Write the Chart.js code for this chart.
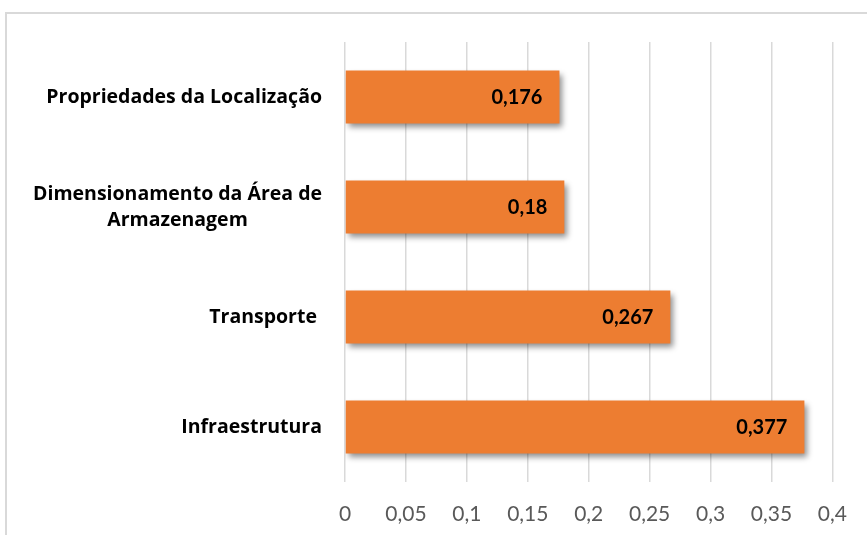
<!DOCTYPE html>
<html>
<head>
<meta charset="utf-8">
<script src="https://cdn.jsdelivr.net/npm/chart.js@4.4.1/dist/chart.umd.min.js"></script>
<style>
  html, body { margin: 0; padding: 0; background: #fff; overflow: hidden; }
  #wrap { position: relative; width: 867px; height: 535px; overflow: hidden; }
  #frame { position: absolute; left: 5px; top: 12px; width: 900px; height: 560px; border: 2px solid #d9d9d9; box-sizing: border-box; }
  canvas { position: absolute; left: 0; top: 0; }
</style>
</head>
<body>
<div id="wrap">
  <div id="frame"></div>
  <canvas id="myChart" width="867" height="535"></canvas>
</div>
<script>
// categories, top to bottom
const categories = [
  ['Propriedades da Localização'],
  ['Dimensionamento da Área de', 'Armazenagem'],
  ['Transporte '],
  ['Infraestrutura']
];
const values = [0.176, 0.18, 0.267, 0.377];
const tickValues = [0, 0.05, 0.1, 0.15, 0.2, 0.25, 0.3, 0.35, 0.4];

const fmt = v => String(v).replace('.', ',');

// shadow under the bars
const barShadow = {
  id: 'barShadow',
  beforeDatasetsDraw(chart) {
    const c = chart.ctx;
    c.save();
    c.shadowColor = 'rgba(0,0,0,0.45)';
    c.shadowBlur = 6;
    c.shadowOffsetX = 3;
    c.shadowOffsetY = 4;
  },
  afterDatasetsDraw(chart) {
    chart.ctx.restore();
  }
};

// value labels inside the end of each bar + category labels on the left
const labelsPlugin = {
  id: 'labelsPlugin',
  afterDatasetsDraw(chart) {
    const c = chart.ctx;
    const meta = chart.getDatasetMeta(0);
    c.save();
    c.fillStyle = '#000';
    c.font = 'bold 20px Lato, "Open Sans", sans-serif';
    c.textAlign = 'right';
    c.textBaseline = 'middle';
    meta.data.forEach((bar, i) => {
      c.fillText(fmt(values[i]), bar.x - 17, bar.y + 1);
    });

    const y = chart.scales.y;
    c.font = 'bold 19.5px "Open Sans", Lato, sans-serif';
    c.textAlign = 'center';
    const right = 322;
    const lh = 26;
    categories.forEach((lines, i) => {
      const py = y.getPixelForTick(i);
      const w = Math.max(...lines.map(l => c.measureText(l).width));
      const cx = right - w / 2;
      const y0 = py - (lines.length - 1) * lh / 2;
      lines.forEach((l, j) => c.fillText(l, cx, y0 + j * lh));
    });
    c.restore();
  }
};

new Chart(document.getElementById('myChart'), {
  type: 'bar',
  data: {
    labels: categories,
    datasets: [{
      data: values,
      backgroundColor: '#ED7D31',
      borderWidth: 0,
      barPercentage: 0.48,
      categoryPercentage: 1
    }]
  },
  options: {
    indexAxis: 'y',
    responsive: false,
    animation: false,
    layout: { padding: { top: 42, right: 32, left: 0, bottom: 0 } },
    plugins: { legend: { display: false }, tooltip: { enabled: false } },
    scales: {
      x: {
        min: 0,
        max: 0.4,
        afterBuildTicks(scale) {
          scale.ticks = tickValues.map(v => ({ value: v }));
        },
        afterFit(scale) { scale.height = 53; },
        grid: { color: '#d9d9d9', lineWidth: 1.5, drawTicks: false },
        border: { display: false },
        ticks: {
          padding: 20,
          color: '#595959',
          font: { family: 'Lato, "Open Sans", sans-serif', size: 21 },
          callback: v => fmt(v)
        }
      },
      y: {
        afterFit(scale) { scale.width = 345; },
        grid: { display: false },
        border: { display: false },
        ticks: { display: false }
      }
    }
  },
  plugins: [barShadow, labelsPlugin]
});
</script>
</body>
</html>
